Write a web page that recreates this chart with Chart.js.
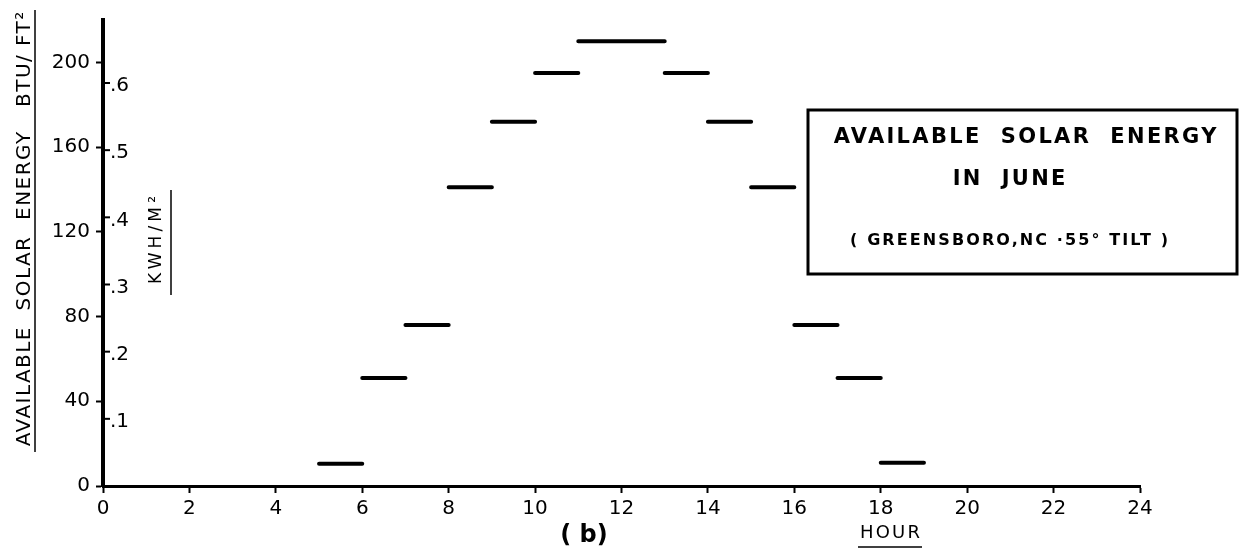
<!DOCTYPE html>
<html>
<head>
<meta charset="utf-8">
<script src="https://cdn.jsdelivr.net/npm/chart.js@4.4.1/dist/chart.umd.min.js"></script>
<style>
  html, body { margin: 0; padding: 0; background: #fff; }
  #wrap { width: 1248px; height: 557px; position: relative; }
</style>
</head>
<body>
<div id="wrap"><canvas id="grafico" width="1248" height="557"></canvas></div>
<script>
// hora inicial de cada intervalo (cada traço cobre 1 hora)
const hourStart = [5, 6, 7, 8, 9, 10, 11, 12, 13, 14, 15, 16, 17, 18];
// energia disponível em BTU/ft² por hora
const energyBtu = [10.5, 51, 76, 141, 172, 195, 210, 210, 195, 172, 141, 76, 51, 11];
// eixo secundário kWh/m²
const kwhTicks = [0.1, 0.2, 0.3, 0.4, 0.5, 0.6];
const kwhLabels = ['.1', '.2', '.3', '.4', '.5', '.6'];
const BTU_PER_KWH = 317.1;

const FONT = '"DejaVu Sans", "Liberation Sans", sans-serif';
Chart.defaults.font.family = FONT;
Chart.defaults.color = '#000';

// cada hora vira um segmento horizontal, separado por um ponto nulo
const pontos = [];
hourStart.forEach((h, i) => {
  pontos.push({ x: h, y: energyBtu[i] });
  pontos.push({ x: h + 1, y: energyBtu[i] });
  pontos.push({ x: h + 1, y: null });
});

// escreve texto espaçado para ocupar uma largura dada
function spacedText(ctx, text, cx, cy, width) {
  ctx.letterSpacing = '0px';
  const w = ctx.measureText(text).width;
  const sp = Math.max(0, (width - w) / text.length);
  ctx.letterSpacing = sp + 'px';
  const w2 = ctx.measureText(text).width - sp;
  ctx.textAlign = 'left';
  ctx.fillText(text, cx - w2 / 2, cy);
  ctx.letterSpacing = '0px';
}

const anotacoes = {
  id: 'anotacoes',
  afterDraw(chart) {
    const ctx = chart.ctx;
    const y = chart.scales.y;
    const left = chart.chartArea.left;
    ctx.save();
    ctx.fillStyle = '#000';
    ctx.strokeStyle = '#000';

    // marcas kWh/m² do lado direito do eixo
    ctx.font = '20px ' + FONT;
    ctx.textBaseline = 'middle';
    ctx.lineWidth = 2;
    kwhTicks.forEach((k, i) => {
      const py = y.getPixelForValue(k * BTU_PER_KWH);
      ctx.beginPath();
      ctx.moveTo(left, py);
      ctx.lineTo(left + 7, py);
      ctx.stroke();
      ctx.textAlign = 'left';
      ctx.fillText(kwhLabels[i], left + 7, py + 3);
    });

    // título vertical da esquerda
    ctx.save();
    ctx.translate(25, 229);
    ctx.rotate(-Math.PI / 2);
    ctx.font = '20px ' + FONT;
    spacedText(ctx, 'AVAILABLE  SOLAR  ENERGY   BTU/ FT²', 0, 0, 436);
    ctx.lineWidth = 1.5;
    ctx.beginPath();
    ctx.moveTo(-223, 10);
    ctx.lineTo(219, 10);
    ctx.stroke();
    ctx.restore();

    // KWH/M²
    ctx.save();
    ctx.translate(157, 240);
    ctx.rotate(-Math.PI / 2);
    ctx.font = '17px ' + FONT;
    spacedText(ctx, 'KWH/M²', 0, 0, 92);
    ctx.lineWidth = 1.5;
    ctx.beginPath();
    ctx.moveTo(-55, 14);
    ctx.lineTo(50, 14);
    ctx.stroke();
    ctx.restore();

    // caixa com o título
    ctx.lineWidth = 3;
    ctx.strokeRect(808, 110, 429, 164);
    ctx.textBaseline = 'middle';
    ctx.font = 'bold 21px ' + FONT;
    spacedText(ctx, 'AVAILABLE  SOLAR  ENERGY', 1025, 138, 385);
    spacedText(ctx, 'IN  JUNE', 1009, 180, 115);
    ctx.font = 'bold 16px ' + FONT;
    spacedText(ctx, '( GREENSBORO,NC ·55° TILT )', 1009, 241, 320);

    // (b) e HOUR
    ctx.font = 'bold 24px ' + FONT;
    ctx.textAlign = 'center';
    ctx.fillText('( b)', 584, 536);
    ctx.font = '18px ' + FONT;
    spacedText(ctx, 'HOUR', 890, 533, 62);
    ctx.lineWidth = 1.5;
    ctx.beginPath();
    ctx.moveTo(858, 547);
    ctx.lineTo(922, 547);
    ctx.stroke();
    ctx.restore();
  }
};

const ctx = document.getElementById('grafico').getContext('2d');
new Chart(ctx, {
  type: 'line',
  data: {
    datasets: [{
      data: pontos,
      borderColor: '#000',
      borderWidth: 4,
      borderCapStyle: 'round',
      pointRadius: 0,
      spanGaps: false,
      tension: 0
    }]
  },
  options: {
    responsive: false,
    animation: false,
    events: [],
    layout: { padding: { top: 20, right: 108, bottom: 0, left: 0 } },
    plugins: { legend: { display: false }, tooltip: { enabled: false } },
    scales: {
      x: {
        type: 'linear',
        min: 0,
        max: 24,
        ticks: { stepSize: 2, font: { size: 20 }, padding: 4, maxRotation: 0 },
        grid: { drawOnChartArea: false, tickLength: 7, tickWidth: 2, tickColor: '#000' },
        border: { color: '#000', width: 3 },
        afterFit: s => { s.height = 71; }
      },
      y: {
        min: 0,
        max: 220,
        ticks: { stepSize: 40, font: { size: 20 }, padding: 6 },
        afterBuildTicks: s => { s.ticks = s.ticks.filter(t => t.value % 40 === 0); },
        grid: { drawOnChartArea: false, tickLength: 7, tickWidth: 2, tickColor: '#000' },
        border: { color: '#000', width: 4 },
        afterFit: s => { s.width = 103; }
      }
    }
  },
  plugins: [anotacoes]
});
</script>
</body>
</html>
